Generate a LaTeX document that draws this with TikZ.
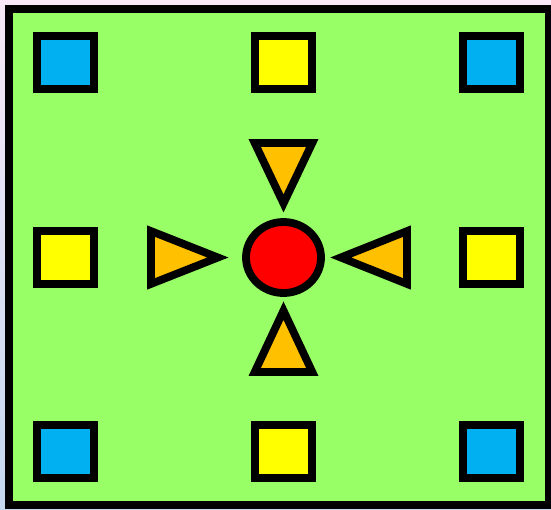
\documentclass[tikz,border=0pt]{standalone}
\usetikzlibrary{shapes.geometric}
\definecolor{bgtop}{RGB}{248,232,248}
\definecolor{bgbot}{RGB}{196,216,240}
\definecolor{fieldgreen}{RGB}{153,255,102}
\definecolor{sqblue}{RGB}{0,176,240}
\definecolor{sqyellow}{RGB}{255,255,0}
\definecolor{triorange}{RGB}{255,192,0}
\definecolor{dotred}{RGB}{255,0,0}
\tikzset{
  sq/.style={draw=black, line width=7.8pt, rectangle, inner sep=0pt,
    minimum width=57pt, minimum height=53pt},
  bluesq/.style={sq, fill=sqblue},
  yellowsq/.style={sq, fill=sqyellow},
  tri/.style={draw=black, line width=7.8pt, fill=triorange, line join=miter},
  field/.style={draw=black, line width=8pt, fill=fieldgreen}
}
\begin{document}
\begin{tikzpicture}[x=1pt,y=-1pt]
\useasboundingbox (0,0) rectangle (551,509);
\shade[top color=bgtop, bottom color=bgbot] (0,0) rectangle (551,509);
\draw[field] (9,9) rectangle (549,504.7);
% squares
\node[bluesq]   (tl) at (65.8,62.8) {};
\node[yellowsq] (tm) at (283.5,62.8) {};
\node[bluesq]   (tr) at (491.8,62.8) {};
\node[yellowsq] (ml) at (65.8,257.2) {};
\node[yellowsq] (mr) at (491.8,257.2) {};
\node[bluesq]   (bl) at (65.8,451.8) {};
\node[yellowsq] (bm) at (283.5,451.8) {};
\node[bluesq]   (br) at (491.8,451.8) {};
% centre
\node[ellipse, draw=black, line width=7.8pt, fill=dotred, inner sep=0pt,
  minimum width=75pt, minimum height=71pt] (c) at (283.5,257.5) {};
% triangles
\draw[tri] (254.7,143) -- (312.3,143) -- (283.5,203.4) -- cycle;
\draw[tri] (254.7,372) -- (312.3,372) -- (283.5,310.6) -- cycle;
\draw[tri] (151,231.1) -- (151,283.9) -- (217.9,257.5) -- cycle;
\draw[tri] (407,231.1) -- (407,283.9) -- (340.8,257.5) -- cycle;
\end{tikzpicture}
\end{document}
